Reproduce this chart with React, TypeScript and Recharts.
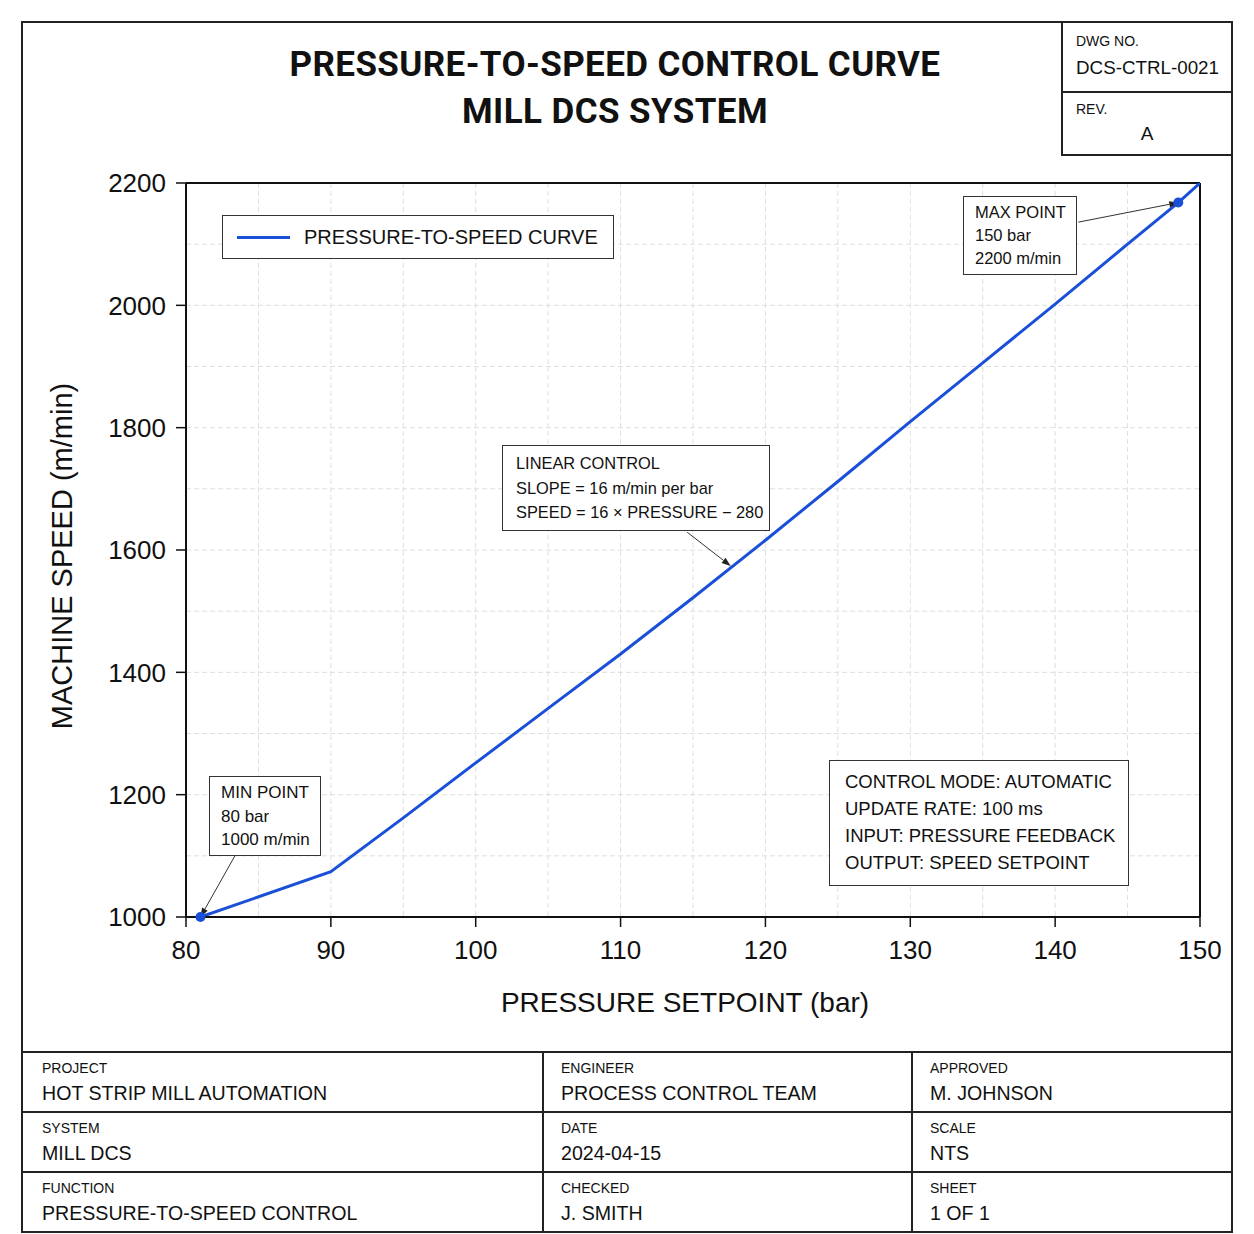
import React from "react";
import {
  LineChart,
  Line,
  XAxis,
  YAxis,
  CartesianGrid,
  ReferenceDot,
  ReferenceLine,
  Legend,
} from "recharts";

// ---------------- data ----------------
const pressure = [81, 90, 95, 100, 105, 110, 115, 120, 125, 130, 135, 140, 145, 148.5, 150];
const speed = [1000, 1074, 1162, 1252, 1341, 1430, 1522, 1616, 1712, 1810, 1906, 2002, 2100, 2168, 2200];

const xTicks = [80, 90, 100, 110, 120, 130, 140, 150];
const yTicks = [1000, 1200, 1400, 1600, 1800, 2000, 2200];
const xGrid = [85, 90, 95, 100, 105, 110, 115, 120, 125, 130, 135, 140, 145];
const yGrid = [1100, 1200, 1300, 1400, 1500, 1600, 1700, 1800, 1900, 2000, 2100];

const minPoint = { pressure: 81, speed: 1000 };
const maxPoint = { pressure: 148.5, speed: 2168 };
const slopePoint = { pressure: 117.6, speed: 1574 };

const minLeaderFrom = { pressure: 83.4, speed: 1101 };
const slopeLeaderFrom = { pressure: 114.6, speed: 1629 };
const maxLeaderFrom = { pressure: 141.6, speed: 2136 };

const titleLines = ["PRESSURE-TO-SPEED CONTROL CURVE", "MILL DCS SYSTEM"];
const seriesName = "PRESSURE-TO-SPEED CURVE";
const minNote = ["MIN POINT", "80 bar", "1000 m/min"];
const slopeNote = ["LINEAR CONTROL", "SLOPE = 16 m/min per bar", "SPEED = 16 × PRESSURE − 280"];
const maxNote = ["MAX POINT", "150 bar", "2200 m/min"];
const modeNote = [
  "CONTROL MODE: AUTOMATIC",
  "UPDATE RATE: 100 ms",
  "INPUT: PRESSURE FEEDBACK",
  "OUTPUT: SPEED SETPOINT",
];
const tableRows = [
  [["PROJECT", "HOT STRIP MILL AUTOMATION"], ["ENGINEER", "PROCESS CONTROL TEAM"], ["APPROVED", "M. JOHNSON"]],
  [["SYSTEM", "MILL DCS"], ["DATE", "2024-04-15"], ["SCALE", "NTS"]],
  [["FUNCTION", "PRESSURE-TO-SPEED CONTROL"], ["CHECKED", "J. SMITH"], ["SHEET", "1 OF 1"]],
];

const data = pressure.map((p, i) => ({ pressure: p, speed: speed[i] }));

// ---------------- style ----------------
const BLUE = "#1a4fd8";
const INK = "#111111";
const FONT = "'Liberation Sans', Arial, Helvetica, sans-serif";

const Leader = (props: any) => {
  const { x1, y1, x2, y2 } = props;
  if ([x1, y1, x2, y2].some((v) => typeof v !== "number" || isNaN(v))) return <g />;
  const ang = Math.atan2(y2 - y1, x2 - x1);
  const L = 9;
  const W = 3.2;
  const bx = x2 - L * Math.cos(ang);
  const by = y2 - L * Math.sin(ang);
  const px = -Math.sin(ang) * W;
  const py = Math.cos(ang) * W;
  return (
    <g>
      <line x1={x1} y1={y1} x2={bx} y2={by} stroke="#333" strokeWidth={1} />
      <polygon points={`${x2},${y2} ${bx + px},${by + py} ${bx - px},${by - py}`} fill="#222" />
    </g>
  );
};

const Note = ({ lines, left, top, width, height, fontSize, lineH, padL, padT }: any) => (
  <div
    style={{
      position: "absolute",
      left,
      top,
      width,
      height,
      boxSizing: "border-box",
      border: "1.5px solid #333",
      background: "#fff",
      fontFamily: FONT,
      fontSize,
      color: INK,
      paddingLeft: padL,
      paddingTop: padT,
      lineHeight: `${lineH}px`,
      whiteSpace: "nowrap",
    }}
  >
    {lines.map((t: string, i: number) => (
      <div key={i}>{t}</div>
    ))}
  </div>
);

const LegendBox = () => (
  <div style={{ position: "relative", width: 0, height: 0, overflow: "visible" }}>
    <div
      style={{
        position: "absolute",
        left: 0,
        top: 0,
        width: 392,
        height: 44,
        boxSizing: "border-box",
        border: "1.5px solid #333",
        background: "#fff",
        display: "flex",
        alignItems: "center",
        fontFamily: FONT,
        fontSize: 20,
        color: INK,
        whiteSpace: "nowrap",
      }}
    >
      <div style={{ width: 53, height: 3, background: BLUE, marginLeft: 14, marginRight: 14 }} />
      <span>{seriesName}</span>
    </div>
  </div>
);

export default function App() {
  const colX = [22, 542, 911];
  const colW = [520, 369, 321];
  return (
    <div
      style={{
        position: "absolute",
        left: 0,
        top: 0,
        width: 1254,
        height: 1234,
        background: "#fff",
        fontFamily: FONT,
        color: INK,
      }}
    >
      {/* outer frame */}
      <div
        style={{
          position: "absolute",
          left: 21,
          top: 21,
          width: 1212,
          height: 1212,
          boxSizing: "border-box",
          border: "2px solid #222",
        }}
      />
      {/* title */}
      <div
        style={{
          position: "absolute",
          left: 215,
          top: 41,
          width: 800,
          textAlign: "center",
          fontFamily: "Roboto, 'Liberation Sans', Arial, sans-serif",
          fontWeight: 700,
          fontSize: 35,
          lineHeight: "47px",
          letterSpacing: 0.4,
        }}
      >
        {titleLines.map((t, i) => (
          <div key={i}>{t}</div>
        ))}
      </div>

      {/* drawing number block */}
      <div
        style={{
          position: "absolute",
          left: 1061,
          top: 21,
          width: 172,
          height: 135,
          boxSizing: "border-box",
          border: "2px solid #222",
        }}
      >
        <div style={{ height: 68, borderBottom: "2px solid #222", paddingLeft: 13 }}>
          <div style={{ fontSize: 14, paddingTop: 10 }}>DWG NO.</div>
          <div style={{ fontSize: 18.8, paddingTop: 8 }}>DCS-CTRL-0021</div>
        </div>
        <div style={{ paddingLeft: 13 }}>
          <div style={{ fontSize: 14, paddingTop: 8 }}>REV.</div>
          <div style={{ fontSize: 19, paddingTop: 6, textAlign: "center", paddingRight: 13 }}>A</div>
        </div>
      </div>

      {/* chart */}
      <div style={{ position: "absolute", left: 0, top: 0 }}>
        <LineChart
          width={1254}
          height={1234}
          data={data}
          margin={{ top: 183, right: 54, bottom: 257, left: 106 }}
        >
          <CartesianGrid
            stroke="#dedede"
            strokeDasharray="5 3"
            horizontalValues={yGrid}
            verticalValues={xGrid}
          />
          <XAxis
            dataKey="pressure"
            type="number"
            domain={[80, 150]}
            ticks={xTicks}
            allowDataOverflow
            height={60}
            axisLine={{ stroke: INK, strokeWidth: 2 }}
            tickLine={{ stroke: INK, strokeWidth: 1.5 }}
            tickSize={10}
            tickMargin={14}
            tick={{ fill: INK, fontSize: 26, fontFamily: FONT }}
            label={{
              value: "PRESSURE SETPOINT (bar)",
              position: "bottom",
              offset: 15,
              fill: INK,
              fontSize: 28,
              fontFamily: FONT,
              dx: -8,
            }}
          />
          <YAxis
            dataKey="speed"
            type="number"
            domain={[1000, 2200]}
            ticks={yTicks}
            allowDataOverflow
            width={80}
            axisLine={{ stroke: INK, strokeWidth: 2 }}
            tickLine={{ stroke: INK, strokeWidth: 1.5 }}
            tickSize={10}
            tickMargin={10}
            tick={{ fill: INK, fontSize: 26, fontFamily: FONT }}
            label={{
              value: "MACHINE SPEED (m/min)",
              angle: -90,
              position: "left",
              offset: 0,
              dx: -44,
              dy: 6,
              fill: INK,
              fontSize: 29,
              fontFamily: FONT,
              textAnchor: "middle",
            }}
          />
          <ReferenceLine y={2200} stroke={INK} strokeWidth={2} />
          <ReferenceLine x={150} stroke={INK} strokeWidth={2} />
          <Line
            type="linear"
            dataKey="speed"
            name={seriesName}
            stroke={BLUE}
            strokeWidth={3}
            dot={false}
            isAnimationActive={false}
          />
          <ReferenceLine
            segment={[
              { x: minLeaderFrom.pressure, y: minLeaderFrom.speed },
              { x: minPoint.pressure, y: minPoint.speed },
            ]}
            shape={Leader}
          />
          <ReferenceLine
            segment={[
              { x: slopeLeaderFrom.pressure, y: slopeLeaderFrom.speed },
              { x: slopePoint.pressure, y: slopePoint.speed },
            ]}
            shape={Leader}
          />
          <ReferenceLine
            segment={[
              { x: maxLeaderFrom.pressure, y: maxLeaderFrom.speed },
              { x: maxPoint.pressure, y: maxPoint.speed },
            ]}
            shape={Leader}
          />
          <ReferenceDot x={minPoint.pressure} y={minPoint.speed} r={5} fill={BLUE} stroke="none" />
          <ReferenceDot x={maxPoint.pressure} y={maxPoint.speed} r={5} fill={BLUE} stroke="none" />
          <Legend
            content={() => <LegendBox />}
            width={0}
            height={0}
            wrapperStyle={{
              position: "absolute",
              left: 222,
              top: 215,
              width: 0,
              height: 0,
              bottom: "auto",
              overflow: "visible",
            }}
          />
        </LineChart>
      </div>

      {/* annotation boxes */}
      <Note lines={minNote} left={209} top={776} width={112} height={80} fontSize={17} lineH={23.5} padL={11} padT={4} />
      <Note lines={slopeNote} left={502} top={445} width={268} height={86} fontSize={16.4} lineH={24.5} padL={13} padT={5} />
      <Note lines={maxNote} left={963} top={196} width={114} height={79} fontSize={16.5} lineH={23} padL={11} padT={4} />
      <Note lines={modeNote} left={829} top={760} width={300} height={126} fontSize={18.5} lineH={27} padL={15} padT={7} />

      {/* bottom info table */}
      <div style={{ position: "absolute", left: 21, top: 1051, width: 1212, height: 2, background: "#222" }} />
      {tableRows.map((row, r) => (
        <React.Fragment key={r}>
          {r > 0 && (
            <div
              style={{ position: "absolute", left: 21, top: 1051 + r * 60, width: 1212, height: 2, background: "#222" }}
            />
          )}
          {row.map((cell, c) => (
            <div
              key={c}
              style={{
                position: "absolute",
                left: colX[c],
                top: 1053 + r * 60,
                width: colW[c],
                height: 58,
                boxSizing: "border-box",
                borderLeft: c > 0 ? "2px solid #222" : "none",
                paddingLeft: c > 0 ? 17 : 20,
              }}
            >
              <div style={{ fontSize: 14, paddingTop: 7, lineHeight: "16px" }}>{cell[0]}</div>
              <div style={{ fontSize: 19.6, paddingTop: 6, lineHeight: "23px" }}>{cell[1]}</div>
            </div>
          ))}
        </React.Fragment>
      ))}
    </div>
  );
}
